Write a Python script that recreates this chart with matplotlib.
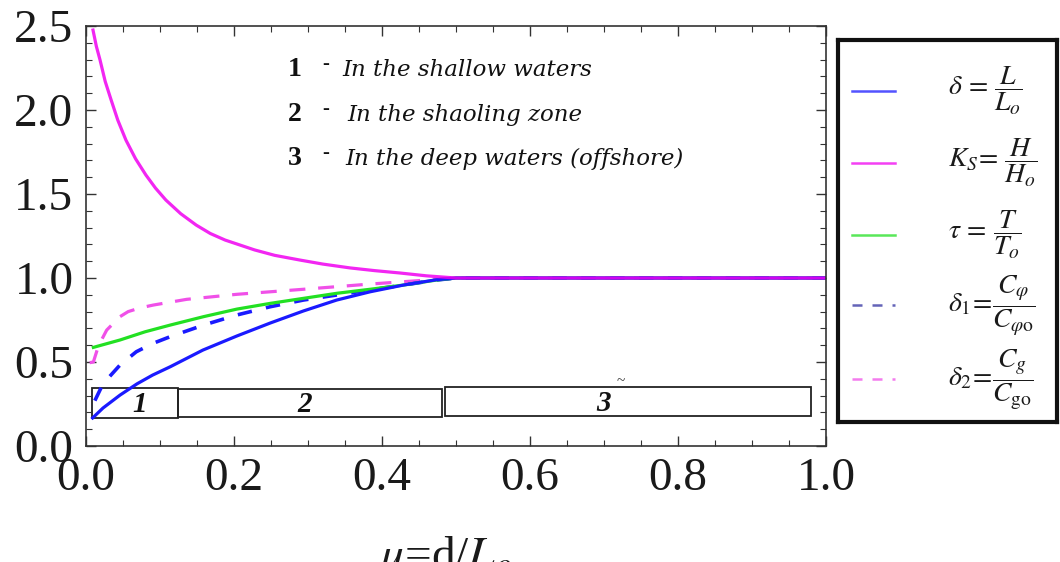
import numpy as np
import matplotlib.pyplot as plt
from matplotlib.ticker import MultipleLocator

plt.rcParams['mathtext.fontset'] = 'stix'
plt.rcParams['font.family'] = ['Liberation Serif', 'DejaVu Serif']

# relative depth mu = d/Lo and the ratios
x_delta = [0.009, 0.023, 0.046, 0.069, 0.09, 0.114, 0.158, 0.204, 0.249, 0.294, 0.339, 0.384, 0.429, 0.474, 0.5, 1.0]
y_delta = [0.167, 0.226, 0.303, 0.37, 0.422, 0.472, 0.571, 0.655, 0.732, 0.804, 0.869, 0.918, 0.958, 0.99, 1.0, 1.0]

x_ks = [0.0095, 0.014, 0.019, 0.026, 0.034, 0.043, 0.054, 0.067, 0.081, 0.094, 0.108, 0.128, 0.149, 0.168,
        0.188, 0.228, 0.255, 0.289, 0.32, 0.357, 0.39, 0.424, 0.46, 0.5, 1.0]
y_ks = [2.476, 2.38, 2.298, 2.17, 2.06, 1.94, 1.821, 1.71, 1.613, 1.535, 1.464, 1.383, 1.315, 1.265,
        1.226, 1.167, 1.135, 1.107, 1.083, 1.06, 1.044, 1.03, 1.013, 1.0, 1.0]

x_tau = [0.01, 0.046, 0.08, 0.114, 0.159, 0.204, 0.249, 0.294, 0.339, 0.384, 0.429, 0.474, 0.5, 1.0]
y_tau = [0.587, 0.631, 0.68, 0.72, 0.77, 0.815, 0.849, 0.879, 0.909, 0.933, 0.958, 0.988, 1.0, 1.0]

x_d1 = [0.012, 0.023, 0.046, 0.068, 0.09, 0.114, 0.159, 0.204, 0.249, 0.294, 0.339, 0.384, 0.429, 0.474, 0.5, 1.0]
y_d1 = [0.27, 0.37, 0.482, 0.561, 0.61, 0.651, 0.72, 0.78, 0.829, 0.869, 0.899, 0.929, 0.958, 0.988, 1.0, 1.0]

x_d2 = [0.005, 0.01, 0.015, 0.021, 0.028, 0.037, 0.046, 0.057, 0.073, 0.091, 0.136, 0.204, 0.294, 0.384, 0.474, 0.5, 1.0]
y_d2 = [0.496, 0.50, 0.57, 0.631, 0.69, 0.73, 0.77, 0.80, 0.822, 0.839, 0.873, 0.903, 0.933, 0.964, 0.992, 1.0, 1.0]

zone_labels = ['1', '2', '3']
zone_x0 = [0.008, 0.124, 0.485]
zone_x1 = [0.124, 0.481, 0.980]
zone_y0 = [0.167, 0.172, 0.178]
zone_y1 = [0.345, 0.342, 0.35]
zone_label_x = [0.073, 0.296, 0.70]

notes = ['In the shallow waters', 'In the shaoling zone', 'In the deep waters (offshore)']

legend_labels = [r'$\delta\,=\,\dfrac{L}{L_o}$',
                 r'$K_S\!=\,\dfrac{H}{H_o}$',
                 r'$\tau\,=\,\dfrac{T}{T_o}$',
                 r'$\delta_1\!=\!\dfrac{C_\varphi}{C_{\varphi\mathrm{o}}}$',
                 r'$\delta_2\!=\!\dfrac{C_g}{C_{\mathrm{go}}}$']

blue = '#1a1aff'
magenta = '#f000f0'
green = '#22e022'
pink = '#f050e8'

fig = plt.figure(figsize=(10.6, 5.62), dpi=100)
ax = fig.add_axes([0.0811, 0.2064, 0.6981, 0.7473])

lw = 2.3
ax.plot(x_d2, y_d2, color=pink, lw=lw, dashes=(5, 4))
ax.plot(x_d1, y_d1, color=blue, lw=lw + 0.3, dashes=(4, 4))
ax.plot(x_tau, y_tau, color=green, lw=lw)
ax.plot(x_delta, y_delta, color=blue, lw=lw)
ax.plot(x_ks, y_ks, color=magenta, lw=lw, alpha=0.85)

for lab, a, b, c, d, lx in zip(zone_labels, zone_x0, zone_x1, zone_y0, zone_y1, zone_label_x):
    ax.add_patch(plt.Rectangle((a, c), b - a, d - c, fill=False, ec='#222222', lw=1.3))
    ax.text(lx, (c + d) / 2 - 0.01, lab, ha='center', va='center', fontsize=21,
            fontweight='bold', style='italic', color='#111111')
ax.text(0.722, 0.385, '~', fontsize=11, ha='center', va='center', color='#333333')

ax.set_xlim(0, 1)
ax.set_ylim(0, 2.5)
ax.xaxis.set_major_locator(MultipleLocator(0.2))
ax.xaxis.set_minor_locator(MultipleLocator(0.05))
ax.yaxis.set_major_locator(MultipleLocator(0.5))
ax.yaxis.set_minor_locator(MultipleLocator(0.1))
ax.tick_params(which='both', direction='in', top=True, right=True, color='#333333')
ax.tick_params(which='major', length=7, width=1)
ax.tick_params(which='minor', length=4, width=0.8)
ax.tick_params(axis='x', labelsize=34, pad=8, labelcolor='#1a1a1a')
ax.tick_params(axis='y', labelsize=34, pad=9, labelcolor='#1a1a1a')
ax.xaxis.set_major_formatter(plt.FormatStrFormatter('%.1f'))
ax.yaxis.set_major_formatter(plt.FormatStrFormatter('%.1f'))
for s in ax.spines.values():
    s.set_color('#333333')
    s.set_linewidth(1.2)

# zone descriptions
for i, note in enumerate(notes):
    yb = [76, 121, 165][i]
    fy = 1 - yb / 562
    fig.text(288 / 1060, fy, str(i + 1), fontsize=20, fontweight='bold', va='baseline',
             color='#111111')
    fig.text(322 / 1060, fy + 0.012, '-', fontsize=15, fontweight='bold', va='baseline',
             color='#111111')
    fig.text([342, 347, 345][i] / 1060, fy, note, fontsize=16.5, style='italic',
             family='DejaVu Serif', va='baseline', color='#111111')

# x axis title, running off the bottom edge
fig.text(445 / 1060, -0.012, r'$\mu$=d/$L_o$', fontsize=34, ha='center', va='baseline',
         color='#1a1a1a')

# legend panel
lg = fig.add_axes([0.7906, 0.2491, 0.2066, 0.6797])
lg.set_xlim(0, 1)
lg.set_ylim(0, 1)
lg.set_xticks([])
lg.set_yticks([])
for s in lg.spines.values():
    s.set_linewidth(3)
    s.set_color('#111111')
rows = [0.866, 0.678, 0.490, 0.306, 0.113]
styles = [(blue, None), (magenta, None), (green, None), ('#3030a0', (4, 4)), (pink, (4, 4))]
for r, (c, ds), lab in zip(rows, styles, legend_labels):
    if ds is None:
        lg.plot([0.064, 0.26], [r, r], color=c, lw=1.8, alpha=0.75)
    else:
        lg.plot([0.064, 0.26], [r, r], color=c, lw=1.8, alpha=0.75, dashes=ds)
    lg.text(0.5, r, lab, fontsize=20, ha='left', va='center', color='#1a1a1a')

fig.savefig('out.png', dpi=100)
